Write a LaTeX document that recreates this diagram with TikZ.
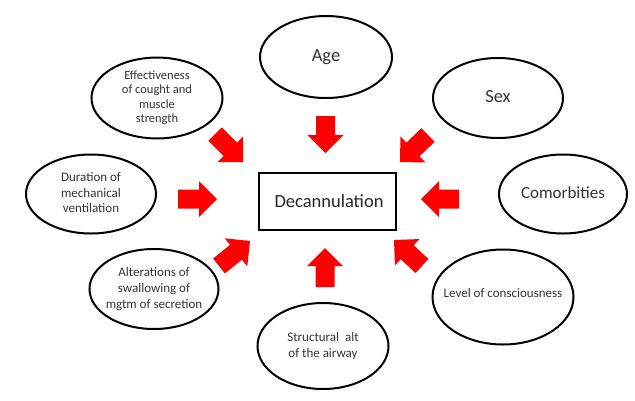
\documentclass[tikz,border=0pt]{standalone}
\usepackage{fontspec}
\setmainfont{Carlito}
\usetikzlibrary{shapes.geometric,calc}
\definecolor{arrowred}{RGB}{255,0,0}
\definecolor{txtgray}{RGB}{52,52,52}
\tikzset{
  factor/.style={ellipse, draw=black, line width=2pt, inner sep=0pt, align=center, text=txtgray, font=\fontsize{13}{15.5}\selectfont},
  bigfactor/.style={factor, font=\fontsize{18.5}{22}\selectfont},
  centerbox/.style={rectangle, draw=black, line width=1.8pt, minimum width=137pt, minimum height=57pt, inner sep=0pt, text=black!85, font=\fontsize{18.5}{22}\selectfont},
}
% zero-width box so that the ellipse keeps its set size
\newcommand\zlines[1]{\makebox[0pt][c]{\begin{tabular}{@{}c@{}}#1\end{tabular}}}
\newcommand\blockarr[2]{%
  \path ($(#2)!18pt!(#1)$) coordinate (hb);
  \fill[arrowred] ($(#1)!9.5pt!90:(#2)$) -- ($(hb)!9.5pt!90:(#2)$) -- ($(hb)!18pt!90:(#2)$) -- (#2)
    -- ($(hb)!18pt!-90:(#2)$) -- ($(hb)!9.5pt!-90:(#2)$) -- ($(#1)!9.5pt!-90:(#2)$) -- cycle;
}
\begin{document}
\begin{tikzpicture}[x=1pt,y=-1pt]
\useasboundingbox (0,0) rectangle (635,400);
\fill[white] (0,0) rectangle (635,400);

\node[centerbox] (dec) at (327.5,201.5) {\hspace*{3pt}Decannulation};

\node[bigfactor, minimum width=132pt, minimum height=82pt] (age) at (326,57) {\zlines{Age}};
\node[factor, minimum width=131pt, minimum height=80pt, font=\fontsize{12.5}{14.3}\selectfont] (eff) at (157,98) {\zlines{Effectiveness\\of cought and\\muscle\\strength}};
\node[bigfactor, minimum width=130pt, minimum height=80pt] (sex) at (498,98) {\zlines{Sex}};
\node[factor, minimum width=130pt, minimum height=79pt] (dur) at (91,194) {\zlines{Duration of\\mechanical\\ventilation}};
\node[factor, minimum width=128pt, minimum height=79pt, font=\fontsize{17}{20}\selectfont] (com) at (563,194) {\zlines{Comorbities}};
\node[factor, minimum width=129pt, minimum height=80pt, font=\fontsize{13}{16}\selectfont] (alt) at (154,289) {\zlines{Alterations of\\swallowing of\\mgtm of secretion}};
\node[factor, minimum width=141pt, minimum height=95pt] (lev) at (503,297) {\raisebox{9pt}{\zlines{Level of consciousness}}};
\node[factor, minimum width=131pt, minimum height=86pt, font=\fontsize{13}{16}\selectfont] (str) at (323,346) {\zlines{Structural\ \ alt\\of the airway}};

% arrow tails and tips
\coordinate (ageT) at (325.5,116);  \coordinate (ageH) at (325.5,153);
\coordinate (effT) at (215,134);    \coordinate (effH) at (243,162);
\coordinate (sexT) at (428,135);    \coordinate (sexH) at (400,162);
\coordinate (durT) at (178,199);    \coordinate (durH) at (217,199);
\coordinate (comT) at (459,199);    \coordinate (comH) at (421,199);
\coordinate (altT) at (219,266);    \coordinate (altH) at (250,241);
\coordinate (levT) at (422,266);    \coordinate (levH) at (394,240);
\coordinate (strT) at (325,287);    \coordinate (strH) at (325,248);

\blockarr{ageT}{ageH}
\blockarr{effT}{effH}
\blockarr{sexT}{sexH}
\blockarr{durT}{durH}
\blockarr{comT}{comH}
\blockarr{altT}{altH}
\blockarr{levT}{levH}
\blockarr{strT}{strH}
\end{tikzpicture}
\end{document}
